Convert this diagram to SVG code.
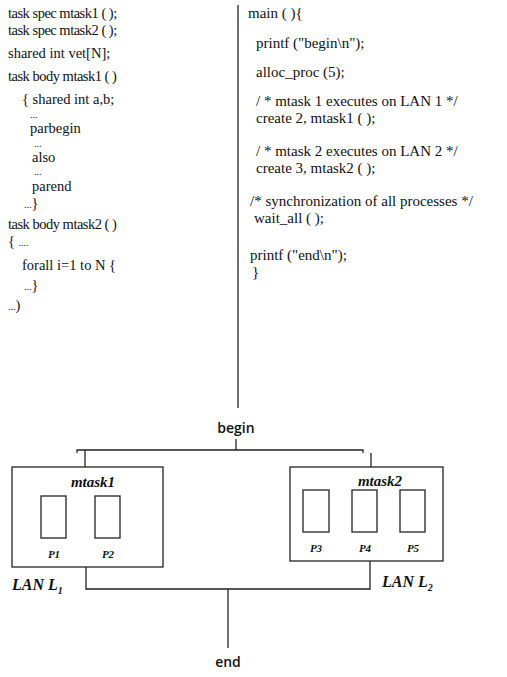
<svg xmlns="http://www.w3.org/2000/svg" width="507" height="677" viewBox="0 0 507 677">
<style>
.c{font-family:"Liberation Serif","Times New Roman",serif;font-size:14.5px;fill:#111}
.r{font-size:15px}
.t{letter-spacing:-0.5px}
.d{font-size:10px}
.ln{stroke:#222;stroke-width:1.3;fill:none}
.bx{stroke:#222;stroke-width:1.3;fill:#fff}
.lbl{font-family:"Liberation Serif",serif;font-style:italic;font-weight:bold;fill:#111}
.be{font-family:"Open Sans","DejaVu Sans",sans-serif;font-weight:600;font-size:14px;fill:#111;text-anchor:middle}
</style>
<rect width="507" height="677" fill="#fff"/>
<g id="code-left" class="c">
<text class="t" x="8" y="18">task spec mtask1 ( );</text>
<text class="t" x="8" y="35">task spec mtask2 ( );</text>
<text x="8" y="58">shared int vet[N];</text>
<text class="t" x="8" y="81">task body mtask1 ( )</text>
<text x="22" y="104">{ shared int a,b;</text>
<text class="d" x="30" y="118">...</text>
<text x="30" y="133">parbegin</text>
<text class="d" x="34" y="146.5">...</text>
<text x="32" y="162">also</text>
<text class="d" x="34" y="175">...</text>
<text x="32" y="191">parend</text>
<text x="24" y="208"><tspan class="d">...</tspan>}</text>
<text class="t" x="8" y="229">task body mtask2 ( )</text>
<text x="8" y="246">{ <tspan class="d">....</tspan></text>
<text x="22" y="270">forall i=1 to N {</text>
<text x="24" y="290"><tspan class="d">...</tspan>}</text>
<text x="8" y="310"><tspan class="d">...</tspan>)</text>
</g>
<line id="divider" class="ln" x1="238" y1="5" x2="238" y2="408"/>
<g id="code-right" class="c r">
<text x="248" y="18">main ( ){</text>
<text x="256" y="48">printf ("begin\n");</text>
<text x="256" y="77">alloc_proc (5);</text>
<text x="256" y="106">/ * mtask 1 executes on LAN 1 */</text>
<text x="256" y="123">create 2, mtask1 ( );</text>
<text x="256" y="156">/ * mtask 2 executes on LAN 2 */</text>
<text x="256" y="173">create 3, mtask2 ( );</text>
<text x="250" y="206">/* synchronization of all processes */</text>
<text x="254" y="223">wait_all ( );</text>
<text x="250" y="260">printf ("end\n");</text>
<text x="252" y="277">}</text>
</g>
<g id="connectors">
<path class="ln" d="M236 439 V450"/>
<path class="ln" d="M77 453 V450 H363 V453"/>
<path class="ln" d="M85 450 V467"/>
<path class="ln" d="M371 453 V467"/>
<path class="ln" d="M86 567 V589 H370 V561"/>
<path class="ln" d="M228 589 V648"/>
</g>
<g id="begin"><text class="be" x="236" y="433">begin</text></g>
<g id="end"><text class="be" x="228" y="667">end</text></g>
<g id="mtask1">
<rect class="bx" x="12" y="467" width="151" height="100"/>
<text class="lbl" x="93" y="487" font-size="15" text-anchor="middle">mtask1</text>
<rect class="bx" x="41" y="496" width="25" height="42"/>
<rect class="bx" x="95" y="496" width="25" height="42"/>
<text class="lbl" x="54" y="558" font-size="11" text-anchor="middle">P1</text>
<text class="lbl" x="108" y="558" font-size="11" text-anchor="middle">P2</text>
</g>
<g id="mtask2">
<rect class="bx" x="290" y="467" width="153" height="94"/>
<text class="lbl" x="380" y="486" font-size="15" text-anchor="middle">mtask2</text>
<rect class="bx" x="303" y="490" width="26" height="42"/>
<rect class="bx" x="352" y="490" width="25" height="42"/>
<rect class="bx" x="400" y="490" width="25" height="42"/>
<text class="lbl" x="316" y="552" font-size="11" text-anchor="middle">P3</text>
<text class="lbl" x="365" y="552" font-size="11" text-anchor="middle">P4</text>
<text class="lbl" x="413" y="552" font-size="11" text-anchor="middle">P5</text>
</g>
<g id="lan1"><text class="lbl" x="12" y="590" font-size="16">LAN L<tspan font-size="10" dy="4">1</tspan></text></g>
<g id="lan2"><text class="lbl" x="382" y="587" font-size="16">LAN L<tspan font-size="10" dy="4">2</tspan></text></g>
</svg>
